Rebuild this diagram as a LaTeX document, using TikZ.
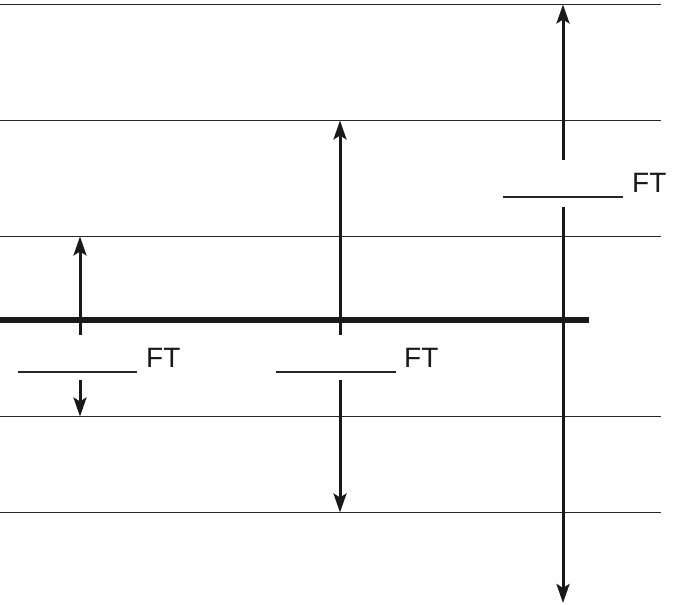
\documentclass[tikz,border=0pt]{standalone}
\usepackage{fontspec}
\setmainfont{Liberation Sans}
\usetikzlibrary{arrows.meta}
\begin{document}
\begin{tikzpicture}[x=1pt,y=1pt,
  level/.style={line width=1.7pt,draw=black!85},
  ground/.style={line width=5.5pt,draw=black!90},
  blank/.style={line width=1.7pt,draw=black!85},
  dim/.style={line width=3pt,draw=black!90,-{Stealth[length=19pt,width=13pt,inset=4pt]}},
  ftlabel/.style={anchor=base west,inner sep=0pt,font=\fontsize{28}{30}\selectfont,text=black!90}]
\useasboundingbox (0,0) rectangle (683,605);
% levels
\coordinate (l1a) at (0,600.5); \coordinate (l1b) at (661,600.5);
\coordinate (l2a) at (0,484.5); \coordinate (l2b) at (661,484.5);
\coordinate (l3a) at (0,368.5); \coordinate (l3b) at (661,368.5);
\coordinate (l4a) at (0,188.5); \coordinate (l4b) at (661,188.5);
\coordinate (l5a) at (0,92.5);  \coordinate (l5b) at (661,92.5);
\foreach \n in {1,...,5} {\draw[level] (l\n a) -- (l\n b);}
% ground line
\coordinate (g1) at (0,285); \coordinate (g2) at (589,285);
\draw[ground] (g1) -- (g2);
% arrow 1
\coordinate (a1s) at (80,270); \coordinate (a1t) at (80,368.5);
\coordinate (a1d) at (80,225); \coordinate (a1e) at (80,188.5);
\draw[dim] (a1s) -- (a1t);
\draw[dim] (a1d) -- (a1e);
\coordinate (b1a) at (18,233); \coordinate (b1b) at (137,233);
\draw[blank] (b1a) -- (b1b);
\node[ftlabel] (ft1) at (146,237) {FT};
% arrow 2
\coordinate (a2s) at (340,270); \coordinate (a2t) at (340,484.5);
\coordinate (a2d) at (340,225); \coordinate (a2e) at (340,92.5);
\draw[dim] (a2s) -- (a2t);
\draw[dim] (a2d) -- (a2e);
\coordinate (b2a) at (276,233); \coordinate (b2b) at (396,233);
\draw[blank] (b2a) -- (b2b);
\node[ftlabel] (ft2) at (404,237) {FT};
% arrow 3
\coordinate (a3s) at (563,445); \coordinate (a3t) at (563,600.5);
\coordinate (a3d) at (563,398); \coordinate (a3e) at (563,2);
\draw[dim] (a3s) -- (a3t);
\draw[dim] (a3d) -- (a3e);
\coordinate (b3a) at (503,408); \coordinate (b3b) at (623,408);
\draw[blank] (b3a) -- (b3b);
\node[ftlabel] (ft3) at (632,412) {FT};
\end{tikzpicture}
\end{document}
